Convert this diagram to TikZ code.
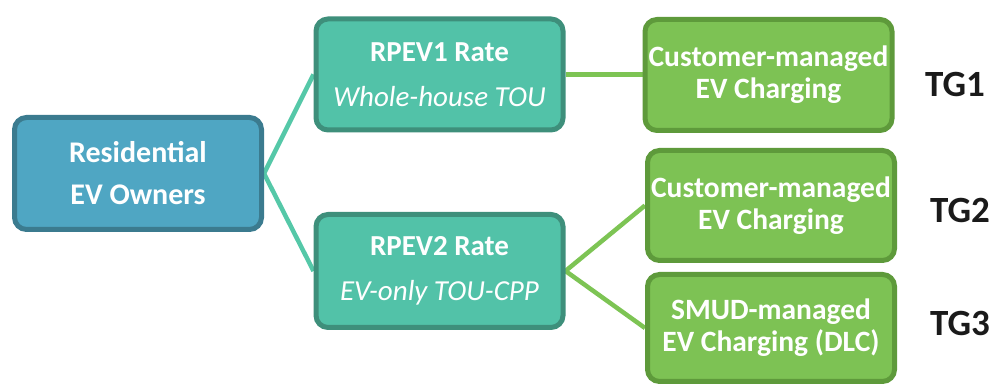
\documentclass[tikz,border=0pt]{standalone}
\usepackage{fontspec}
\setmainfont{Carlito}
\usetikzlibrary{backgrounds}
\definecolor{resfill}{HTML}{4FA6C3}
\definecolor{resline}{HTML}{3B7B8F}
\definecolor{ratefill}{HTML}{52C2A8}
\definecolor{rateline}{HTML}{3E8F7B}
\definecolor{grfill}{HTML}{7DC254}
\definecolor{grline}{HTML}{5E9A3B}
\definecolor{tealconn}{HTML}{55C8A8}
\definecolor{grconn}{HTML}{7DC454}
\definecolor{tgtext}{HTML}{1A1A1A}
\tikzset{
  box/.style={rectangle, rounded corners=12pt, line width=5pt, align=center,
    text=white, inner sep=0pt, minimum width=247pt},
  resbox/.style={box, fill=resfill, draw=resline, minimum height=112pt,
    font=\fontsize{30}{42}\selectfont\bfseries},
  ratebox/.style={box, fill=ratefill, draw=rateline, minimum height=111pt,
    font=\fontsize{29}{45}\selectfont},
  grbox/.style={box, fill=grfill, draw=grline, minimum height=110pt,
    font=\fontsize{29.5}{32}\selectfont\bfseries},
  tglabel/.style={font=\fontsize{37}{40}\selectfont\bfseries, text=tgtext, inner sep=0pt},
  tconn/.style={draw=tealconn, line width=4.5pt},
  gconn/.style={draw=grconn, line width=4.5pt}
}
\begin{document}
\begin{tikzpicture}[x=1pt,y=1pt]
\useasboundingbox (0,0) rectangle (990,385);
\node[resbox] (res) at (138,211.5) {Residential\\EV Owners};
\node[ratebox] (r1) at (439.5,310.5) {\textbf{RPEV1 Rate}\\\textit{Whole-house TOU}};
\node[ratebox, minimum height=113pt] (r2) at (439.5,114) {\textbf{RPEV2 Rate}\\\textit{EV-only TOU-CPP}};
\node[grbox, minimum height=111pt] (g1) at (768.5,310) {Customer-managed\\EV Charging};
\node[grbox] (g2) at (771,179.5) {Customer-managed\\EV Charging};
\node[grbox, minimum height=107pt] (g3) at (771,57) {SMUD-managed\\EV Charging (DLC)};
\node[tglabel] (t1) at (955,300) {TG1};
\node[tglabel] (t2) at (960,175) {TG2};
\node[tglabel] (t3) at (960,62) {TG3};
\begin{pgfonlayer}{background}
\draw[tconn] (res.east) -- (r1.west);
\draw[tconn] (res.east) -- (r2.west);
\draw[gconn] (r1.east) -- (r1.east -| g1.west);
\draw[gconn] (r2.east) -- (g2.west);
\draw[gconn] (r2.east) -- (g3.west);
\end{pgfonlayer}
\end{tikzpicture}
\end{document}
